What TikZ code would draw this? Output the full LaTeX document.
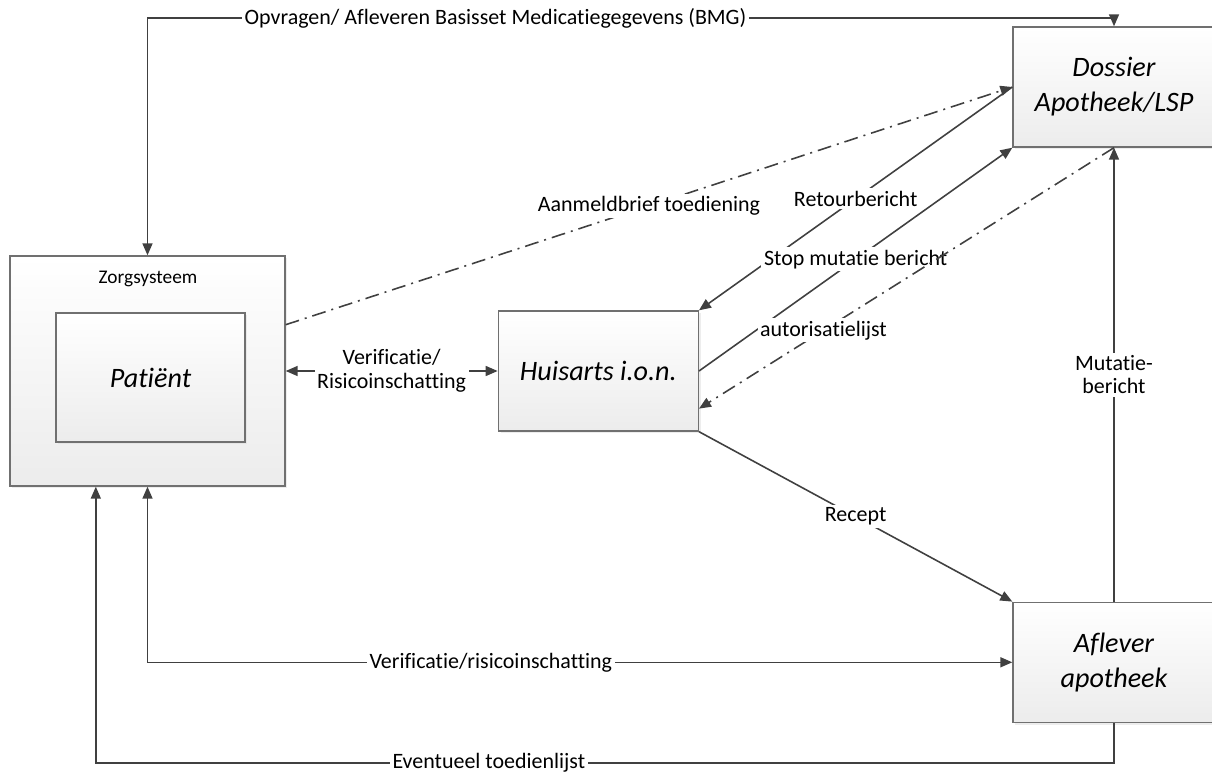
\documentclass[tikz,border=0pt]{standalone}
\usepackage{fontspec}
\setmainfont{Carlito}[Ligatures={NoCommon}]
\usepackage{tikz}
\usetikzlibrary{positioning,arrows.meta,calc,shadows}
\definecolor{vsLine}{RGB}{64,64,64}
\definecolor{vsBorder}{RGB}{112,112,112}
\definecolor{vsShade}{RGB}{236,236,236}

\begin{document}
\begin{tikzpicture}[
    x=0.02cm, y=-0.02cm,
    box node/.style={rectangle, draw=vsBorder, line width=0.8pt, top color=white, bottom color=vsShade, drop shadow={shadow xshift=0.45mm, shadow yshift=-0.45mm, fill=black!14}, font=\fontsize{16}{20}\selectfont\itshape, align=center, inner sep=0pt},
    msg line/.style={draw=vsLine, line width=0.9pt, >={Triangle[length=2.4mm, width=2mm]}},
    dashdot line/.style={msg line, dash pattern=on 2.8mm off 1.2mm on 0.4mm off 1.2mm},
    msg note/.style={font=\fontsize{12.5}{13.5}\selectfont, fill=white, inner sep=1.5pt, align=center}
]
  \useasboundingbox (0,0) rectangle (1212,773);

  % systems
  \node[box node, minimum width=5.5cm, minimum height=4.6cm] (zorg) at (147.5,371) {};
  \node[font=\fontsize{11}{13}\selectfont] (zorgname) at (148,279) {Zorgsysteem};
  \node[box node, minimum width=3.78cm, minimum height=2.58cm] (patient) at (150.5,377.5) {Patiënt};
  \node[box node, minimum width=4cm, minimum height=2.4cm, right=4.24cm of zorg] (huisarts) {Huisarts i.o.n.};
  \node[box node, minimum width=4.04cm, minimum height=2.4cm] (dossier) at (1114,87) {Dossier\\Apotheek/LSP};
  \node[box node, minimum width=4.04cm, minimum height=2.4cm, below=9.08cm of dossier] (aflever) {Aflever\\apotheek};

  % bends and attach points
  \coordinate (bmg) at (0,18);
  \coordinate (evt) at (0,763);
  \coordinate (zorgleft) at ($(zorg.south west)!0.313!(zorg.south east)$);
  \coordinate (zorgdash) at ($(zorg.north east)!0.3!(zorg.south east)$);
  \coordinate (huisdash) at ($(huisarts.north east)!0.81!(huisarts.south east)$);

  % messages
  \draw[msg line, <->] (zorg.north) -- (zorg.north |- bmg) -- node[msg note, pos=0.36] {Opvragen/ Afleveren Basisset Medicatiegegevens (BMG)} (dossier.north |- bmg) -- (dossier.north);
  \draw[msg line, <->] (zorg.east) -- node[msg note] {Verificatie/\\Risicoinschatting} (huisarts.west);
  \draw[dashdot line, ->] (zorgdash) -- node[msg note] {Aanmeldbrief toediening} (dossier.west);
  \draw[msg line, ->] (dossier.west) -- node[msg note] {Retourbericht} (huisarts.north east);
  \draw[msg line, ->] (huisarts.east) -- node[msg note] {Stop mutatie bericht} (dossier.south west);
  \draw[dashdot line, ->] (dossier.south) -- node[msg note, pos=0.7] {autorisatielijst} (huisdash);
  \draw[msg line, ->] (aflever.north) -- node[msg note] {Mutatie-\\bericht} (dossier.south);
  \draw[msg line, ->] (huisarts.south east) -- node[msg note] {Recept} (aflever.north west);
  \draw[msg line, <->] (zorg.south) -- (zorg.south |- aflever.west) -- node[msg note, pos=0.397] {Verificatie/risicoinschatting} (aflever.west);
  \draw[msg line, ->] (aflever.south) -- (aflever.south |- evt) -- node[msg note, pos=0.614] {Eventueel toedienlijst} (zorgleft |- evt) -- (zorgleft);
\end{tikzpicture}
\end{document}
